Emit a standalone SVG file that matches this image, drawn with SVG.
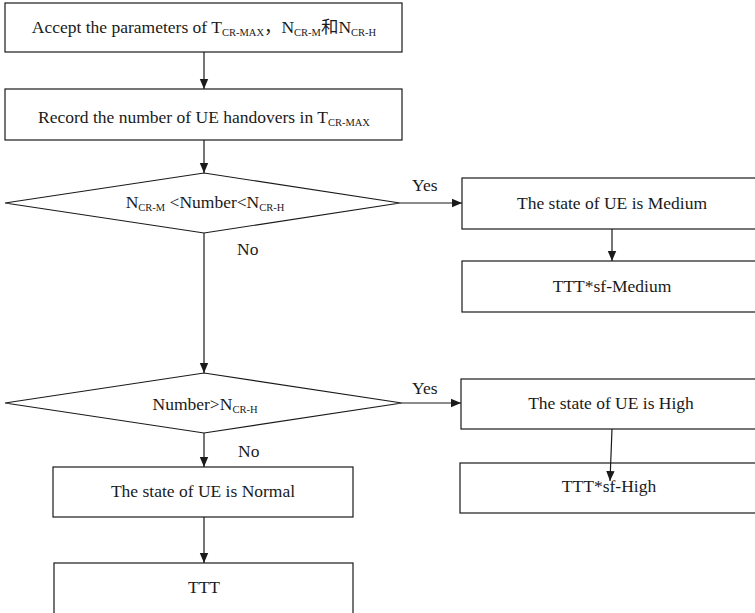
<svg xmlns="http://www.w3.org/2000/svg" width="755" height="613" viewBox="0 0 755 613">
  <style>
    .box { fill: #fff; stroke: #1a1a1a; stroke-width: 1.2; }
    .dia { fill: #fff; stroke: #1a1a1a; stroke-width: 1.1; }
    text { font-family: "Liberation Serif", "Times New Roman", "DejaVu Serif", serif; font-size: 17.5px; fill: #1a1a1a; }
    .lbl { text-anchor: middle; }
    .sub { font-size: 10.5px; }
    .edge { stroke: #1a1a1a; stroke-width: 1.2; fill: none; marker-end: url(#arrow); }
  </style>
  <defs>
    <marker id="arrow" viewBox="0 0 10 10" refX="10" refY="5" markerWidth="10" markerHeight="10" markerUnits="userSpaceOnUse" orient="auto">
      <path d="M0,0.8 L10,5 L0,9.2 Z" fill="#1a1a1a"/>
    </marker>
  </defs>
  <rect width="755" height="613" fill="#fff"/>

  <g id="accept">
    <rect class="box" x="5" y="3" width="397" height="49"/>
    <text class="lbl" x="204" y="33">Accept the parameters of T<tspan class="sub" dy="3">CR-MAX</tspan><tspan font-family="Noto Sans CJK SC, sans-serif" dy="-3">，</tspan>N<tspan class="sub" dy="3">CR-M</tspan><tspan font-family="Noto Sans CJK SC, sans-serif" dy="-3">和</tspan>N<tspan class="sub" dy="3">CR-H</tspan></text>
  </g>

  <g id="record">
    <rect class="box" x="5" y="89" width="397" height="51"/>
    <text class="lbl" x="204" y="123">Record the number of UE handovers in T<tspan class="sub" dy="3">CR-MAX</tspan></text>
  </g>

  <g id="check-medium">
    <polygon class="dia" points="204,173 400,203 204,233 5,203"/>
    <text class="lbl" x="205" y="208">N<tspan class="sub" dy="3">CR-M</tspan><tspan dy="-3"> &lt;Number&lt;N</tspan><tspan class="sub" dy="3">CR-H</tspan></text>
  </g>

  <g id="state-medium">
    <rect class="box" x="462" y="178" width="300" height="51"/>
    <text class="lbl" x="612" y="209">The state of UE is Medium</text>
  </g>

  <g id="ttt-medium">
    <rect class="box" x="462" y="261" width="300" height="51"/>
    <text class="lbl" x="612" y="292">TTT*sf-Medium</text>
  </g>

  <g id="check-high">
    <polygon class="dia" points="204,373 402,403 204,433 5,403"/>
    <text class="lbl" x="205" y="410">Number&gt;N<tspan class="sub" dy="3">CR-H</tspan></text>
  </g>

  <g id="state-high">
    <rect class="box" x="461" y="379" width="300" height="50"/>
    <text class="lbl" x="611" y="409">The state of UE is High</text>
  </g>

  <g id="ttt-high">
    <rect class="box" x="460" y="463" width="300" height="50"/>
    <text class="lbl" x="609" y="492">TTT*sf-High</text>
  </g>

  <g id="state-normal">
    <rect class="box" x="53" y="467" width="300" height="50"/>
    <text class="lbl" x="203" y="497">The state of UE is Normal</text>
  </g>

  <g id="ttt-normal">
    <rect class="box" x="54" y="563" width="299" height="55"/>
    <text class="lbl" x="204" y="593">TTT</text>
  </g>

  <g id="connectors">
    <line class="edge" x1="204" y1="52" x2="204" y2="89"/>
    <line class="edge" x1="204" y1="140" x2="204" y2="173"/>
    <line class="edge" x1="400" y1="203" x2="462" y2="203"/>
    <line class="edge" x1="612" y1="229" x2="612" y2="261"/>
    <line class="edge" x1="204" y1="233" x2="204" y2="373"/>
    <line class="edge" x1="402" y1="403" x2="461" y2="403"/>
    <line class="edge" x1="612" y1="429" x2="610" y2="481"/>
    <line class="edge" x1="204" y1="433" x2="204" y2="467"/>
    <line class="edge" x1="204" y1="517" x2="204" y2="563"/>
    <text x="412" y="191">Yes</text>
    <text x="237" y="255">No</text>
    <text x="412" y="394">Yes</text>
    <text x="238" y="457">No</text>
  </g>
</svg>
